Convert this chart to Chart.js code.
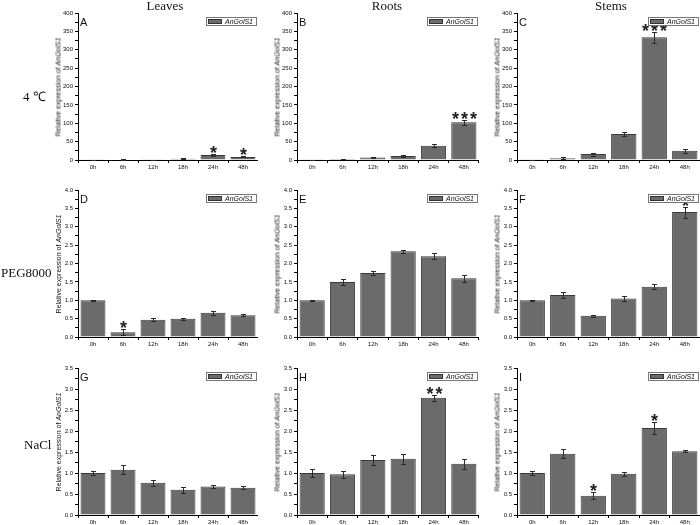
<!DOCTYPE html>
<html>
<head>
<meta charset="utf-8">
<script src="https://cdn.jsdelivr.net/npm/chart.js@4.4.1/dist/chart.umd.min.js"></script>
<style>
  body { margin: 0; background: #fff; }
  #wrap { position: relative; width: 700px; height: 525px; overflow: hidden; background: #fff; }
  #wrap canvas { position: absolute; }
  .ytitle { position: absolute; font: 7px Arial, "Liberation Sans", sans-serif; white-space: nowrap;
            transform: translate(-50%, -50%) rotate(-90deg); color: #111; }
  .serif { position: absolute; font: 13px "Liberation Serif", "Times New Roman", serif; white-space: nowrap; color: #111; }
</style>
</head>
<body>
<div id="wrap"></div>
<script>
const hours = ['0h', '6h', '12h', '18h', '24h', '48h'];

// 4 ℃ row
const valuesA = [1, 1.5, 1, 3.5, 13.5, 8.5];
const errorsA = [0.3, 0.5, 0.3, 1, 2, 1.5];
const starsA  = ['', '', '', '', '*', '*'];
const valuesB = [1, 3, 7, 11, 39, 102.5];
const errorsB = [0.3, 1, 2, 2, 4, 6];
const starsB  = ['', '', '', '', '', '***'];
const valuesC = [1, 5, 16, 71, 334, 25];
const errorsC = [0.3, 2, 4, 5, 15, 5];
const starsC  = ['', '', '', '', '***', ''];

// PEG8000 row
const valuesD = [1.0, 0.13, 0.47, 0.5, 0.66, 0.59];
const errorsD = [0.02, 0.08, 0.04, 0.03, 0.05, 0.03];
const starsD  = ['', '*', '', '', '', ''];
const valuesE = [1.0, 1.5, 1.74, 2.33, 2.2, 1.6];
const errorsE = [0.02, 0.08, 0.06, 0.05, 0.09, 0.1];
const starsE  = ['', '', '', '', '', ''];
const valuesF = [1.0, 1.14, 0.58, 1.05, 1.37, 3.4];
const errorsF = [0.02, 0.08, 0.03, 0.06, 0.07, 0.15];
const starsF  = ['', '', '', '', '', '*'];

// NaCl row
const valuesG = [1.0, 1.08, 0.77, 0.6, 0.68, 0.65];
const errorsG = [0.05, 0.1, 0.07, 0.07, 0.03, 0.03];
const starsG  = ['', '', '', '', '', ''];
const valuesH = [1.0, 0.97, 1.31, 1.34, 2.79, 1.22];
const errorsH = [0.09, 0.08, 0.11, 0.12, 0.07, 0.12];
const starsH  = ['', '', '', '', '**', ''];
const valuesI = [1.0, 1.46, 0.46, 0.98, 2.07, 1.52];
const errorsI = [0.04, 0.1, 0.08, 0.05, 0.14, 0.03];
const starsI  = ['', '', '*', '', '*', ''];

const rowNames = ['4 ℃', 'PEG8000', 'NaCl'];
const colNames = ['Leaves', 'Roots', 'Stems'];
const yMaxes = [400, 4, 3.5];
const yMajor = [50, 0.5, 0.5];
const yDecimals = [0, 1, 1];
const legendLabel = 'AnGolS1';

const panels = [
  ['A', valuesA, errorsA, starsA], ['B', valuesB, errorsB, starsB], ['C', valuesC, errorsC, starsC],
  ['D', valuesD, errorsD, starsD], ['E', valuesE, errorsE, starsE], ['F', valuesF, errorsF, starsF],
  ['G', valuesG, errorsG, starsG], ['H', valuesH, errorsH, starsH], ['I', valuesI, errorsI, starsI]
];

// layout of plot areas on the page
const axisX = [78, 297, 517];
const rightX = [258, 479, 700];
const rowTop = [13, 190, 368];
const rowBottom = [160, 337, 515];
const PADL = 40, PADT = 10, PADB = 14;

const wrap = document.getElementById('wrap');

// error bars, asterisks, panel letter and legend box
const decorPlugin = {
  id: 'decor',
  afterDatasetsDraw(chart, args, opts) {
    const ctx = chart.ctx;
    const meta = chart.getDatasetMeta(0);
    const y = chart.scales.y;
    const area = chart.chartArea;
    ctx.save();
    ctx.strokeStyle = '#2a2a2a';
    ctx.lineWidth = 1;
    opts.values.forEach((v, i) => {
      const x = Math.round(meta.data[i].x) + 0.5;
      const top = Math.round(y.getPixelForValue(v + opts.errors[i])) + 0.5;
      const bot = Math.round(y.getPixelForValue(Math.max(0, v - opts.errors[i]))) + 0.5;
      ctx.beginPath();
      ctx.moveTo(x, top); ctx.lineTo(x, bot);
      ctx.moveTo(x - 2.5, top); ctx.lineTo(x + 2.5, top);
      ctx.moveTo(x - 2.5, bot); ctx.lineTo(x + 2.5, bot);
      ctx.stroke();
      const s = opts.stars[i];
      if (s) {
        ctx.fillStyle = '#222';
        ctx.font = 'bold 18px Arial, "Liberation Sans", sans-serif';
        ctx.textAlign = 'center';
        ctx.textBaseline = 'alphabetic';
        const n = s.length;
        for (let k = 0; k < n; k++) {
          ctx.fillText('*', x + (k - (n - 1) / 2) * 9, top + 4);
        }
      }
    });
    // panel letter
    ctx.fillStyle = '#111';
    ctx.font = '11px Arial, "Liberation Sans", sans-serif';
    ctx.textAlign = 'left';
    ctx.textBaseline = 'alphabetic';
    ctx.fillText(opts.letter, area.left + 2, area.top + 13);
    // legend
    const lw = 50, lh = 8;
    const lx = area.right - 2 - lw, ly = area.top + 4;
    ctx.fillStyle = '#fff';
    ctx.fillRect(lx, ly, lw, lh);
    ctx.strokeStyle = '#777';
    ctx.strokeRect(lx + 0.5, ly + 0.5, lw, lh);
    ctx.fillStyle = '#6b6b6b';
    ctx.fillRect(lx + 2, ly + 2, 14, 5);
    ctx.strokeStyle = '#333';
    ctx.strokeRect(lx + 2.5, ly + 2.5, 13, 4);
    ctx.fillStyle = '#111';
    ctx.font = 'italic 7px Arial, "Liberation Sans", sans-serif';
    ctx.textBaseline = 'middle';
    ctx.fillText(legendLabel, lx + 19, ly + lh / 2 + 1);
    ctx.restore();
  }
};

panels.forEach((p, idx) => {
  const row = Math.floor(idx / 3), col = idx % 3;
  const [letter, values, errors, stars] = p;
  const canvas = document.createElement('canvas');
  const w = rightX[col] - axisX[col] + PADL;
  const h = rowBottom[row] - rowTop[row] + PADT + PADB;
  canvas.width = w; canvas.height = h;
  canvas.style.left = (axisX[col] - PADL) + 'px';
  canvas.style.top = (rowTop[row] - PADT) + 'px';
  canvas.style.width = w + 'px'; canvas.style.height = h + 'px';
  wrap.appendChild(canvas);

  const major = yMajor[row];
  new Chart(canvas, {
    type: 'bar',
    data: {
      labels: hours,
      datasets: [{
        label: legendLabel,
        data: values,
        backgroundColor: '#6b6b6b',
        borderColor: '#3a3a3a',
        borderWidth: 1,
        barPercentage: 0.83,
        categoryPercentage: 1
      }]
    },
    options: {
      responsive: false,
      animation: false,
      devicePixelRatio: 1,
      layout: { padding: { top: PADT, left: 0, right: 0, bottom: 0 } },
      plugins: {
        legend: { display: false },
        tooltip: { enabled: false },
        decor: { values: values, errors: errors, stars: stars, letter: letter }
      },
      scales: {
        x: {
          grid: { drawOnChartArea: false, drawTicks: true, tickLength: 3, color: '#000', offset: true },
          border: { display: true, color: '#000', width: 1 },
          ticks: { color: '#111', font: { size: 6, family: 'Arial' }, padding: 1, maxRotation: 0 },
          afterFit: (s) => { s.height = PADB; }
        },
        y: {
          min: 0,
          max: yMaxes[row],
          grid: { drawOnChartArea: false, drawTicks: true, tickLength: 3, color: '#000' },
          border: { display: true, color: '#000', width: 1 },
          ticks: {
            stepSize: major / 2,
            color: '#111',
            font: { size: 6, family: 'Arial' },
            padding: 2,
            autoSkip: false,
            callback: (v) => {
              const r = v / major;
              return Math.abs(r - Math.round(r)) < 1e-6 ? v.toFixed(yDecimals[row]) : '';
            }
          },
          afterFit: (s) => { s.width = PADL; }
        }
      }
    },
    plugins: [decorPlugin]
  });

  // y axis title with italic gene name
  const t = document.createElement('div');
  t.className = 'ytitle';
  t.style.left = (axisX[col] - 20) + 'px';
  t.style.top = ((rowTop[row] + rowBottom[row]) / 2) + 'px';
  t.innerHTML = 'Relative expression of <i>' + legendLabel + '</i>';
  wrap.appendChild(t);
});

// column headers
const colCenters = [165, 387, 611];
colNames.forEach((name, i) => {
  const d = document.createElement('div');
  d.className = 'serif';
  d.textContent = name;
  d.style.left = colCenters[i] + 'px';
  d.style.top = '-2px';
  d.style.transform = 'translateX(-50%)';
  wrap.appendChild(d);
});

// row labels
const rowLabelLeft = [23, 1, 24];
const rowLabelCenter = [96, 273, 445];
rowNames.forEach((name, i) => {
  const d = document.createElement('div');
  d.className = 'serif';
  d.textContent = name;
  d.style.left = rowLabelLeft[i] + 'px';
  d.style.top = rowLabelCenter[i] + 'px';
  d.style.transform = 'translateY(-50%)';
  wrap.appendChild(d);
});
</script>
</body>
</html>
